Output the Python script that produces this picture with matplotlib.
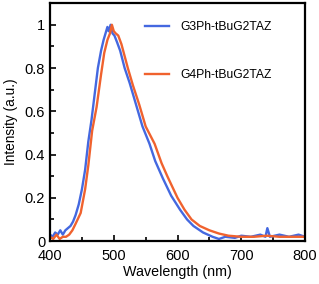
import matplotlib
matplotlib.use("Agg")
import matplotlib.pyplot as plt
from matplotlib.ticker import MultipleLocator

plt.rcParams['font.family'] = ['Liberation Sans', 'DejaVu Sans']

wl_g3 = [400, 404, 408, 412, 416, 420, 424, 428, 432, 436, 440, 445, 450, 455, 460, 465, 470,
         475, 480, 484, 487, 490, 492, 495, 498, 501, 505, 510, 517, 525, 535, 545, 556,
         565, 577, 590, 604, 615, 625, 640, 655, 665, 675, 690, 700, 715, 730, 738, 741, 745,
         760, 775, 790, 800]
int_g3 = [0.03, 0.02, 0.04, 0.03, 0.05, 0.03, 0.05, 0.06, 0.07, 0.09, 0.12, 0.17, 0.24, 0.33, 0.46, 0.56, 0.68,
          0.80, 0.88, 0.93, 0.96, 0.99, 0.97, 1.00, 0.96, 0.95, 0.92, 0.88, 0.80, 0.73, 0.63, 0.53, 0.45,
          0.37, 0.29, 0.21, 0.145, 0.10, 0.07, 0.04, 0.02, 0.01, 0.02, 0.015, 0.025, 0.02, 0.03, 0.02, 0.06, 0.02,
          0.03, 0.02, 0.03, 0.02]

wl_g4 = [400, 405, 410, 415, 420, 425, 430, 435, 440, 448, 455, 460, 466, 473, 480,
         485, 490, 494, 497, 500, 503, 507, 512, 522, 530, 540, 550, 564, 575, 584, 600,
         611, 622, 635, 650, 665, 680, 700, 720, 740, 760, 780, 800]
int_g4 = [0.02, 0.01, 0.03, 0.01, 0.02, 0.02, 0.03, 0.05, 0.08, 0.13, 0.24, 0.35, 0.51, 0.62, 0.77,
          0.87, 0.93, 0.96, 1.00, 0.97, 0.96, 0.95, 0.91, 0.80, 0.72, 0.63, 0.53, 0.45, 0.36, 0.30, 0.20,
          0.145, 0.10, 0.07, 0.05, 0.035, 0.025, 0.02, 0.02, 0.025, 0.02, 0.02, 0.02]

labels = ["G3Ph-tBuG2TAZ", "G4Ph-tBuG2TAZ"]
colors = ["#4468e0", "#f0622e"]

fig = plt.figure(figsize=(3.19, 2.84), dpi=100)
ax = fig.add_axes([0.157, 0.151, 0.799, 0.838])

ax.plot(wl_g3, int_g3, color=colors[0], lw=1.7, label=labels[0])
ax.plot(wl_g4, int_g4, color=colors[1], lw=1.7, label=labels[1])

ax.set_xlim(400, 800)
ax.set_ylim(0, 1.1)
ax.xaxis.set_major_locator(MultipleLocator(100))
ax.xaxis.set_minor_locator(MultipleLocator(50))
ax.set_yticks([0, 0.2, 0.4, 0.6, 0.8, 1.0])
ax.set_yticklabels(["0", "0.2", "0.4", "0.6", "0.8", "1"])
ax.yaxis.set_minor_locator(MultipleLocator(0.1))
ax.tick_params(which='both', direction='in', top=False, right=False, labelsize=10.5, width=1.2)
ax.tick_params(which='major', length=4)
ax.tick_params(which='minor', length=3)
ax.tick_params(axis='x', pad=6)
for s in ax.spines.values():
    s.set_linewidth(1.6)

ax.set_xlabel("Wavelength (nm)", fontsize=10.3, labelpad=1)
ax.set_ylabel("Intensity (a.u.)", fontsize=9.8, labelpad=5)

ax.legend(loc='upper right', frameon=False, fontsize=8.7, handlelength=2.0,
          labelspacing=3.0, borderaxespad=0.9, handletextpad=0.9,
          bbox_to_anchor=(0.93, 0.99))

fig.savefig("out.png", dpi=100)
